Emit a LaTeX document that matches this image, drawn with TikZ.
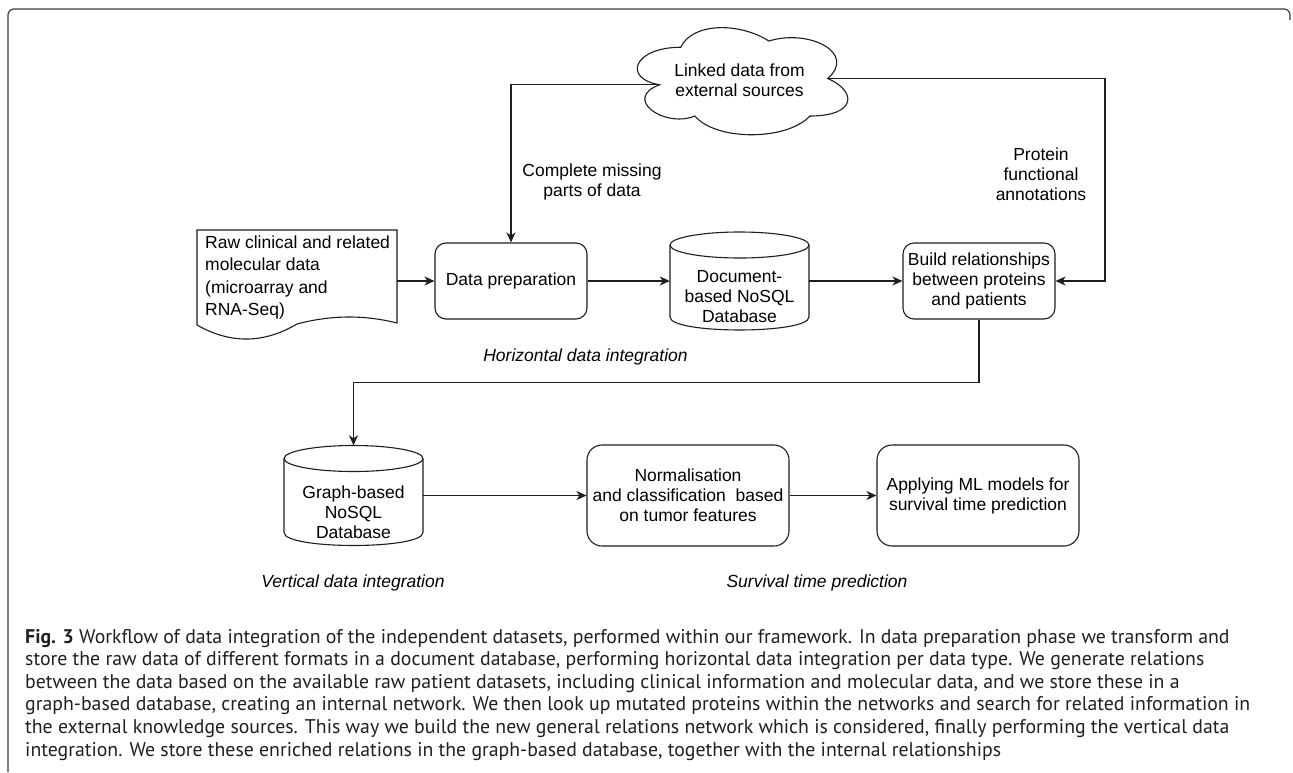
\documentclass[tikz,border=0pt]{standalone}
\usepackage{fontspec}
\setmainfont{Liberation Sans}
\newfontfamily\capfont{PT Sans}
\usetikzlibrary{arrows.meta}
\definecolor{wirecol}{RGB}{30,30,30}
\definecolor{captxt}{RGB}{35,31,32}
\definecolor{framecol}{RGB}{60,60,60}
\newlength\capwidthmeasure
\begin{document}
\settowidth\capwidthmeasure{\capfont\fontsize{10}{12}\selectfont graph-based database, creating an internal network. We then look up mutated proteins within the networks and search for related information in}%
\pgfmathsetmacro\capsize{10*1225/\capwidthmeasure}%
\begin{tikzpicture}[x=1pt,y=-1pt,
  wire/.style={draw=wirecol, line width=1.1pt},
  arr/.style={wire, -{Stealth[length=10pt,width=9pt,inset=3pt]}},
  rbox/.style={wire, rounded corners=11pt, align=center, inner sep=0pt, font=\fontsize{17.5}{20}\selectfont},
  bigbox/.style={rbox, rounded corners=15pt, minimum width=202pt, minimum height=101pt},
  smallbox/.style={rbox, minimum width=152pt, minimum height=76pt},
  lbl/.style={align=center, inner sep=0pt, font=\fontsize{17.5}{20}\selectfont},
  ilbl/.style={inner sep=0pt, font=\fontsize{17.5}{20}\selectfont\itshape},
  ghost/.style={draw=none, inner sep=0pt},
  capline/.style={anchor=base west, inner sep=0pt, font=\capfont\fontsize{\capsize}{22.6}\selectfont, text=captxt},
]
\useasboundingbox (0,0) rectangle (1293,772);
\fill[white] (0,0) rectangle (1293,772);

% frame
\draw[draw=framecol, line width=1.2pt, rounded corners=6pt] (8,772) -- (8,9) -- (1290,9) -- (1290,20);

% cloud
\begin{scope}[shift={(622,16)}, x=235pt, y=-125pt]
  \draw[wire] (0.25,0.25) .. controls (0.05,0.25) and (0,0.5) .. (0.16,0.55)
    .. controls (0,0.66) and (0.18,0.9) .. (0.31,0.8)
    .. controls (0.4,1) and (0.7,1) .. (0.8,0.8)
    .. controls (1,0.8) and (1,0.6) .. (0.875,0.5)
    .. controls (1,0.3) and (0.8,0.1) .. (0.625,0.2)
    .. controls (0.5,0.05) and (0.3,0.05) .. cycle;
  \coordinate (cloudL) at (0.16,0.55);
  \coordinate (cloudR) at (0.875,0.5);
\end{scope}
\node[lbl] (cloud) at (739.5,80) {Linked data from\\external sources};

% raw document
\node[ghost, minimum width=200pt, minimum height=102pt] (raw) at (297,281) {};
\draw[wire] (197,230) -- (397,230) -- (397,323)
  .. controls (364,314.7) and (330.7,315) .. (297,324)
  .. controls (263.7,343.7) and (230.3,344) .. (197,325) -- cycle;
\node[anchor=west, align=left, inner sep=0pt, font=\fontsize{17.5}{22.3}\selectfont] (rawtext) at (205,277.5)
  {Raw clinical and related\\molecular data\\(microarray and\\RNA-Seq)};

% boxes
\node[smallbox] (prep) at (511,281) {Data preparation};
\node[smallbox] (build) at (979,281) {Build relationships\\between proteins\\and patients};
\node[bigbox] (norm) at (688,495.5) {Normalisation\\and classification\ \ based\\on tumor features};
\node[bigbox] (apply) at (978,495.5) {Applying ML models for\\survival time prediction};

% document database cylinder
\node[ghost, minimum width=139pt, minimum height=98pt] (docdb) at (739.5,281) {};
\draw[wire] (670,245) -- (670,317) .. controls (670,334.3) and (809,334.3) .. (809,317) -- (809,245);
\draw[wire] (739.5,245) ellipse [x radius=69.5pt, y radius=13pt];
\node[lbl] (doctext) at (739.5,297) {Document-\\based NoSQL\\Database};

% graph database cylinder
\node[ghost, minimum width=139pt, minimum height=100pt] (graphdb) at (353.5,495.5) {};
\draw[wire] (284,458.5) -- (284,532.5) .. controls (284,549.8) and (423,549.8) .. (423,532.5) -- (423,458.5);
\draw[wire] (353.5,458.5) ellipse [x radius=69.5pt, y radius=13pt];
\node[lbl] (graphtext) at (353.5,512) {Graph-based\\NoSQL\\Database};

% connectors
\coordinate (rc) at (1105,281);
\draw[arr] (raw.east) -- (prep.west);
\draw[arr] (prep.east) -- (docdb.west);
\draw[arr] (docdb.east) -- (build.west);
\draw[arr] (cloudL) -| (prep.north);
\draw[arr] (cloudR) -| (rc) -- (build.east);
\draw[arr] (build.south) -- ++(0,63) -| (graphdb.north);
\draw[arr] (graphdb.east) -- (norm.west);
\draw[arr] (norm.east) -- (apply.west);

% labels
\node[lbl] (lblcomplete) at (592,182) {Complete missing\\parts of data};
\node[lbl] (lblprotein) at (1041,174) {Protein\\functional\\annotations};
\node[ilbl] (lblhoriz) at (585.5,357) {Horizontal data integration};
\node[ilbl] (lblvert) at (353,583) {Vertical data integration};
\node[ilbl] (lblsurv) at (817,583) {Survival time prediction};

% caption
\node[capline] (cap1) at (25,643) {\textbf{Fig. 3} Workflow of data integration of the independent datasets, performed within our framework. In data preparation phase we transform and};
\node[capline] (cap2) at (25,665.6) {store the raw data of different formats in a document database, performing horizontal data integration per data type. We generate relations};
\node[capline] (cap3) at (25,688.2) {between the data based on the available raw patient datasets, including clinical information and molecular data, and we store these in a};
\node[capline] (cap4) at (25,710.8) {graph-based database, creating an internal network. We then look up mutated proteins within the networks and search for related information in};
\node[capline] (cap5) at (25,733.4) {the external knowledge sources. This way we build the new general relations network which is considered, finally performing the vertical data};
\node[capline] (cap6) at (25,756) {integration. We store these enriched relations in the graph-based database, together with the internal relationships};
\end{tikzpicture}
\end{document}
